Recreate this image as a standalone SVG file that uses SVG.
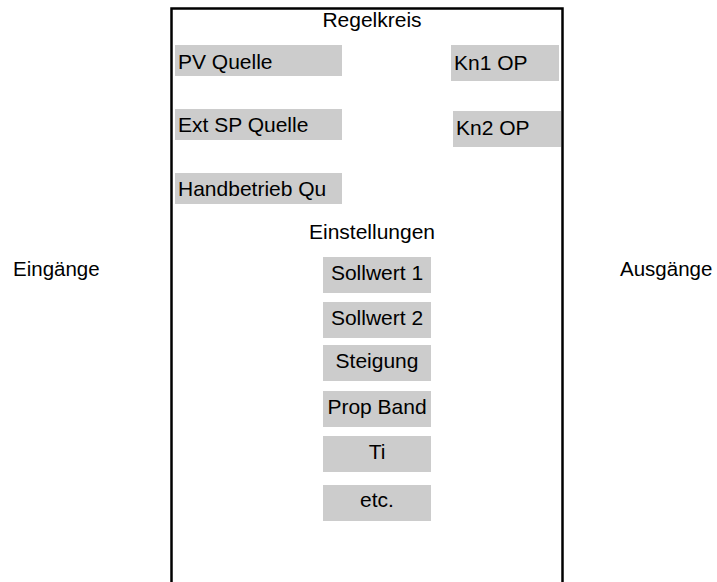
<svg xmlns="http://www.w3.org/2000/svg" width="717" height="582" viewBox="0 0 717 582">
<style>
text{font-family:"Liberation Sans",Arial,sans-serif;font-size:21px;fill:#000}
.box{fill:#cccccc;stroke:none}
.c{text-anchor:middle}
.side{font-size:20.5px}
</style>
<rect x="0" y="0" width="717" height="582" fill="#ffffff"/>
<g id="regelkreis">
<rect x="171.5" y="8.5" width="391" height="600" fill="none" stroke="#000" stroke-width="2.5"/>
<text class="c" x="372" y="27">Regelkreis</text>
</g>
<g id="eingaenge"><text class="side" x="13" y="276">Eingänge</text></g>
<g id="ausgaenge"><text class="side" x="620" y="276">Ausgänge</text></g>
<g id="pv-quelle"><rect class="box" x="175" y="45" width="167" height="31"/><text x="178" y="68.5">PV Quelle</text></g>
<g id="ext-sp-quelle"><rect class="box" x="175" y="109" width="167" height="31"/><text x="178" y="132">Ext SP Quelle</text></g>
<g id="handbetrieb"><rect class="box" x="175" y="173" width="167" height="31"/><text x="178" y="196">Handbetrieb Qu</text></g>
<g id="kn1-op"><rect class="box" x="451" y="45" width="108" height="36"/><text x="454" y="69.5">Kn1 OP</text></g>
<g id="kn2-op"><rect class="box" x="453" y="111" width="108" height="36"/><text x="456" y="135">Kn2 OP</text></g>
<g id="einstellungen"><text class="c" x="372" y="238.5">Einstellungen</text></g>
<g id="sollwert1"><rect class="box" x="323" y="257" width="108" height="36"/><text class="c" x="377" y="280">Sollwert 1</text></g>
<g id="sollwert2"><rect class="box" x="323" y="302" width="108" height="36"/><text class="c" x="377" y="325">Sollwert 2</text></g>
<g id="steigung"><rect class="box" x="323" y="345" width="108" height="36"/><text class="c" x="377" y="367.5">Steigung</text></g>
<g id="prop-band"><rect class="box" x="323" y="391" width="108" height="36"/><text class="c" x="377" y="413.5">Prop Band</text></g>
<g id="ti"><rect class="box" x="323" y="436" width="108" height="36"/><text class="c" x="377" y="458.5">Ti</text></g>
<g id="etc"><rect class="box" x="323" y="485" width="108" height="36"/><text class="c" x="377" y="507">etc.</text></g>
<g id="connectors"></g>
</svg>
